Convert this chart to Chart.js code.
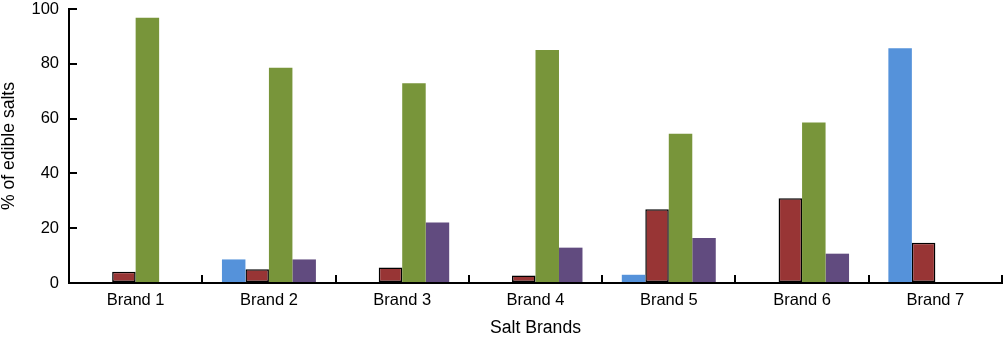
<!DOCTYPE html>
<html>
<head>
<meta charset="utf-8">
<script src="https://cdn.jsdelivr.net/npm/chart.js@4"></script>
<style>
html,body{margin:0;padding:0;background:#fff;}
#wrap{width:1004px;height:340px;position:relative;}
</style>
</head>
<body>
<div id="wrap"><canvas id="c" width="1004" height="340"></canvas></div>
<script>
const categories = ['Brand 1','Brand 2','Brand 3','Brand 4','Brand 5','Brand 6','Brand 7'];
const seriesBlue   = [null, 8.6, null, null, 3.0, null, 85.7];
const seriesRed    = [4.1, 5.0, 5.7, 2.7, 26.9, 30.9, 14.7];
const seriesGreen  = [96.8, 78.6, 72.9, 85.0, 54.5, 58.6, null];
const seriesPurple = [null, 8.6, 22.1, 12.9, 16.4, 10.7, null];
const yTicks = [0, 20, 40, 60, 80, 100];

const font = {family: '"Liberation Sans", Arial, sans-serif', size: 16.5};
const titleFont = {family: '"Liberation Sans", Arial, sans-serif', size: 17.6, lineHeight: 1};

new Chart(document.getElementById('c'), {
  type: 'bar',
  data: {
    labels: categories,
    datasets: [
      {label: 'Series 1', data: seriesBlue, backgroundColor: '#5592DA', borderWidth: 0},
      {label: 'Series 2', data: seriesRed, backgroundColor: '#983535', borderColor: '#000', borderWidth: 1.5, borderSkipped: false},
      {label: 'Series 3', data: seriesGreen, backgroundColor: '#78953A', borderWidth: 0},
      {label: 'Series 4', data: seriesPurple, backgroundColor: '#614B7F', borderWidth: 0}
    ]
  },
  options: {
    responsive: false,
    animation: false,
    events: [],
    layout: {padding: {left: 0, right: 2, top: 9, bottom: 0}},
    datasets: {bar: {categoryPercentage: 0.705, barPercentage: 1}},
    plugins: {legend: {display: false}, tooltip: {enabled: false}},
    scales: {
      x: {
        grid: {display: true, drawOnChartArea: false, drawTicks: true, tickLength: -8, color: '#000', lineWidth: 2, offset: true},
        border: {display: true, color: '#000', width: 2},
        ticks: {color: '#000', font: font, padding: 16, maxRotation: 0},
        title: {display: true, text: 'Salt Brands', color: '#000', font: titleFont, padding: {top: 0, bottom: 3}},
        afterFit: s => { s.height = 57; s.paddingLeft = 0; s.paddingRight = 0; }
      },
      y: {
        min: 0, max: 100,
        afterBuildTicks: s => { s.ticks = yTicks.map(v => ({value: v})); },
        grid: {display: true, drawOnChartArea: false, drawTicks: true, tickLength: -8, color: '#000', lineWidth: 2},
        border: {display: true, color: '#000', width: 2},
        ticks: {color: '#000', font: font, padding: 18},
        title: {display: true, text: '% of edible salts', color: '#000', font: titleFont, padding: {top: 0, bottom: 0}},
        afterFit: s => { s.width = 69; s.paddingTop = 0; s.paddingBottom = 0; }
      }
    }
  }
});
</script>
</body>
</html>
